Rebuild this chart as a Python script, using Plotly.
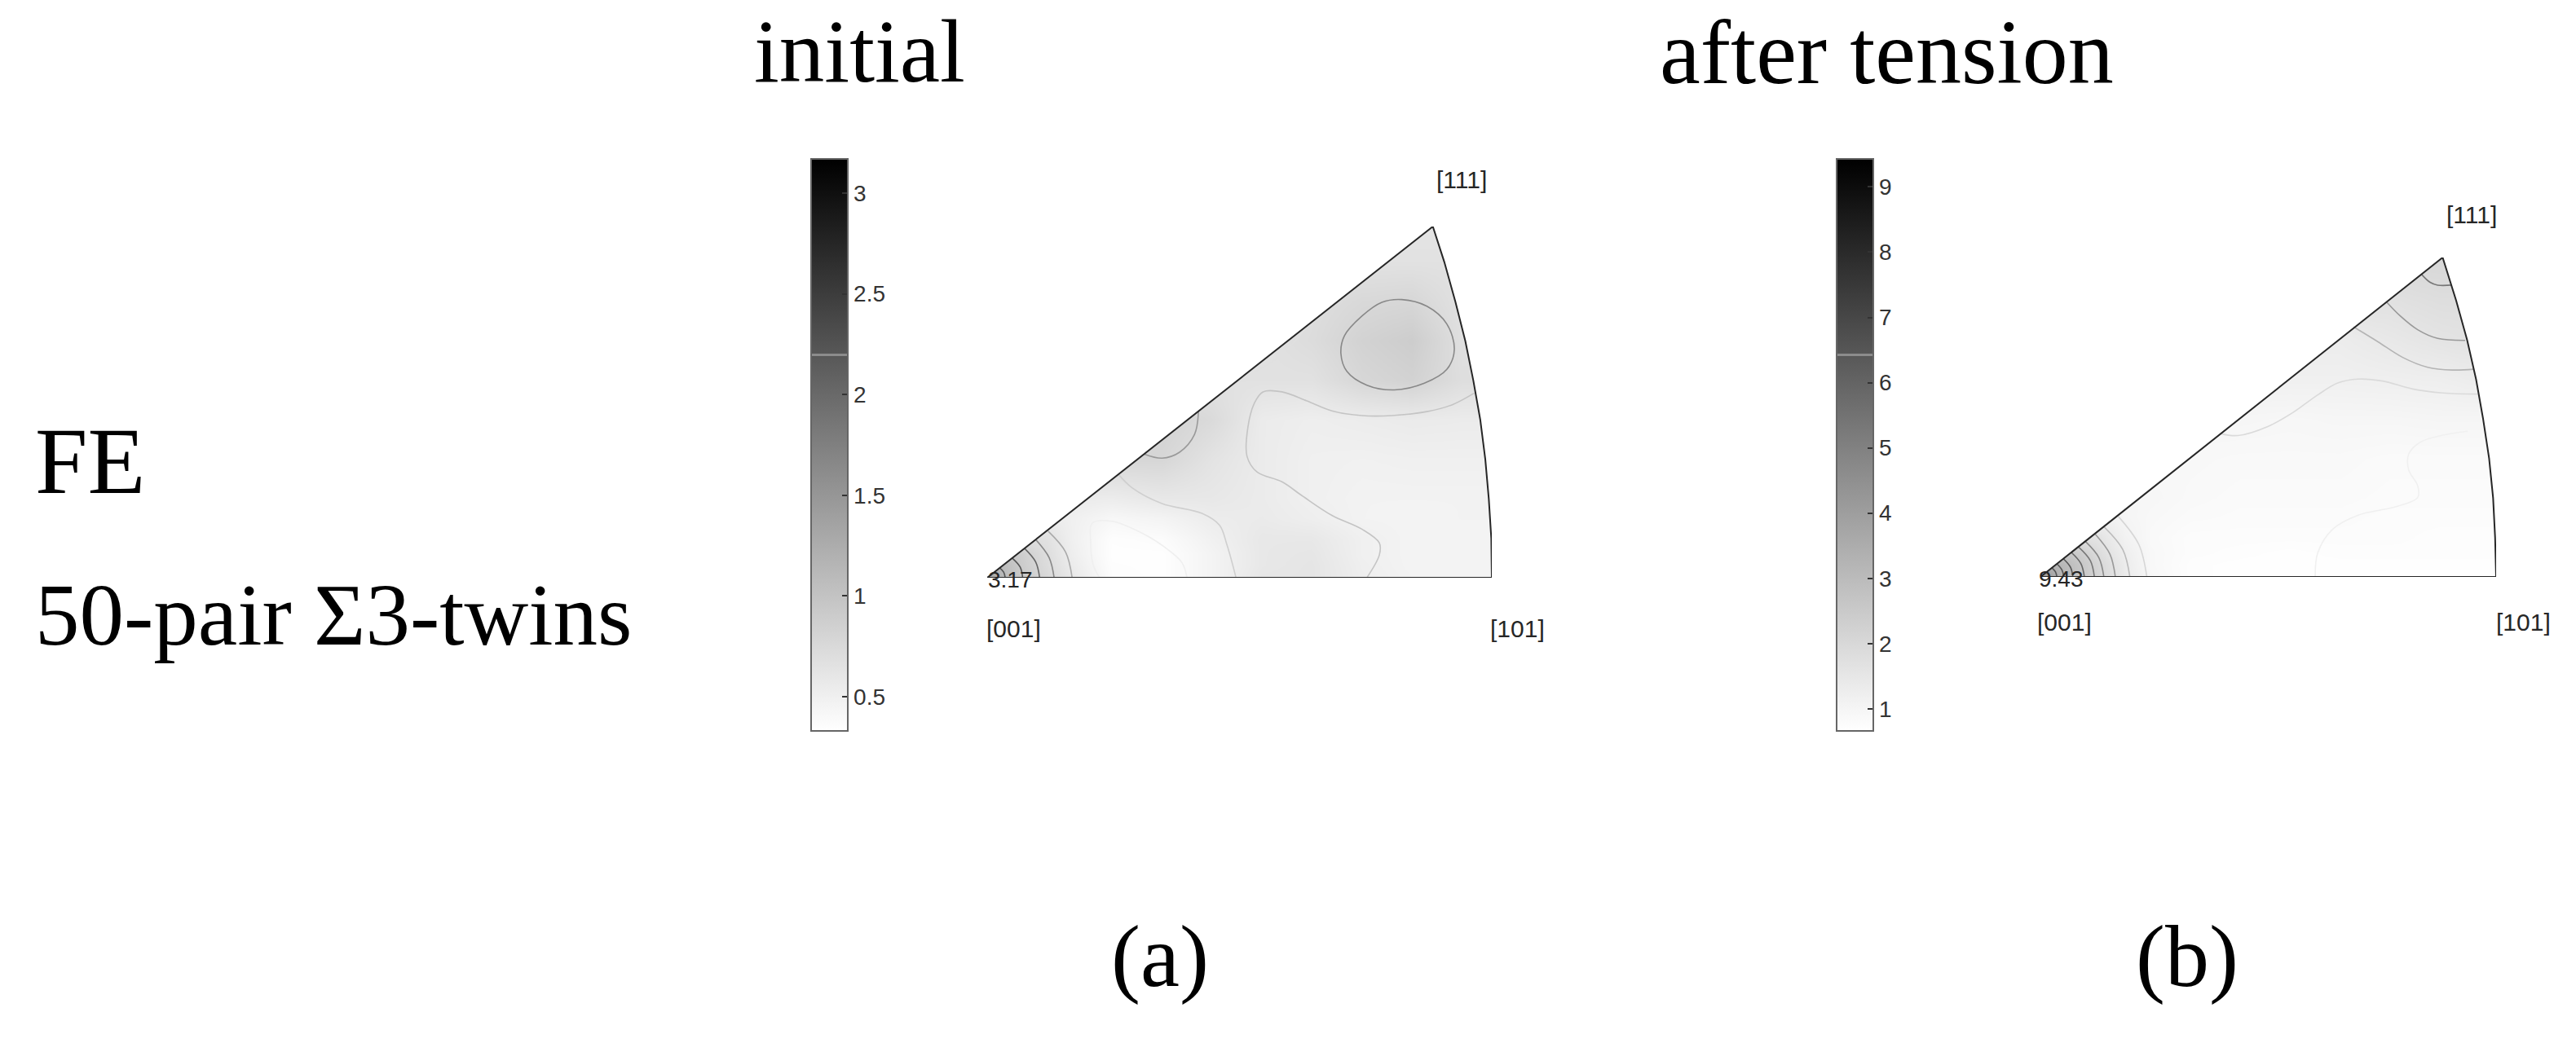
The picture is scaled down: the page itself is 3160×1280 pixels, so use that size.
import plotly.graph_objects as go

W, H = 3160, 1280
SERIF = "Liberation Serif"
SANS = "Liberation Sans"

# ---- panel (a) "initial" -------------------------------------------------
a_tick_vals = [0.5, 1, 1.5, 2, 2.5, 3]
a_tick_text = ["0.5", "1", "1.5", "2", "2.5", "3"]
a_zmin, a_zmax = 0.33, 3.17
a_x = [0, 40, 80, 120, 170, 250, 350, 450, 550, 650, 750, 850, 950, 1010]
a_y = [0, 30, 60, 100, 150, 200, 300, 400, 500, 600, 700, 800, 890]
a_z = [
    [1.35, 1.05, 0.90, 0.76, 0.59, 0.36, 0.34, 0.46, 0.61, 0.62, 0.52, 0.47, 0.46, 0.46],
    [1.20, 1.03, 0.86, 0.72, 0.55, 0.35, 0.34, 0.46, 0.59, 0.62, 0.51, 0.46, 0.46, 0.46],
    [1.00, 0.98, 0.84, 0.70, 0.52, 0.34, 0.34, 0.46, 0.59, 0.61, 0.50, 0.46, 0.46, 0.46],
    [0.70, 0.70, 0.70, 0.66, 0.50, 0.35, 0.37, 0.49, 0.59, 0.59, 0.50, 0.46, 0.46, 0.46],
    [0.55, 0.55, 0.55, 0.55, 0.50, 0.42, 0.46, 0.54, 0.56, 0.52, 0.47, 0.46, 0.47, 0.47],
    [0.55, 0.55, 0.55, 0.55, 0.55, 0.54, 0.59, 0.59, 0.55, 0.50, 0.47, 0.47, 0.47, 0.47],
    [0.78, 0.78, 0.78, 0.78, 0.78, 0.78, 0.78, 0.64, 0.55, 0.50, 0.49, 0.50, 0.50, 0.50],
    [0.83, 0.83, 0.83, 0.83, 0.83, 0.83, 0.83, 0.74, 0.55, 0.52, 0.54, 0.56, 0.55, 0.55],
    [0.66, 0.66, 0.66, 0.66, 0.66, 0.66, 0.66, 0.66, 0.66, 0.66, 0.78, 0.83, 0.70, 0.70],
    [0.66, 0.66, 0.66, 0.66, 0.66, 0.66, 0.66, 0.66, 0.66, 0.72, 0.83, 0.89, 0.68, 0.68],
    [0.70, 0.70, 0.70, 0.70, 0.70, 0.70, 0.70, 0.70, 0.70, 0.70, 0.76, 0.78, 0.66, 0.66],
    [0.66, 0.66, 0.66, 0.66, 0.66, 0.66, 0.66, 0.66, 0.66, 0.66, 0.66, 0.66, 0.66, 0.66],
    [0.63, 0.63, 0.63, 0.63, 0.63, 0.63, 0.63, 0.63, 0.63, 0.63, 0.63, 0.63, 0.63, 0.63],
]
a_edge_x = [0, 1010, 1009, 1004, 997, 987, 973, 957, 937, 915, 892, 0]
a_edge_y = [0, 0, 100, 200, 300, 400, 500, 600, 700, 800, 890, 0]
a_contours = [
    ("#555555", [36, 33, 25], [0, 14, 25]),
    ("#555555", [71, 66, 50], [0, 27, 50]),
    ("#666666", [105, 97, 75], [0, 40, 74]),
    ("#888888", [134, 124, 97], [0, 51, 97]),
    ("#aaaaaa", [170, 157, 122], [0, 65, 118]),
    ("#efefef", [225, 212, 207, 210, 250, 310, 360, 390, 400], [0, 33, 93, 138, 143, 113, 73, 38, 0]),
    ("#cfcfcf", [262, 290, 350, 430, 465, 480, 498], [263, 228, 188, 163, 133, 83, 0]),
    ("#c4c4c4", [760, 785, 785, 750, 690, 630, 590, 540, 520, 522, 535, 552, 590, 640, 690, 750, 810, 880, 930, 975],
     [0, 58, 88, 123, 158, 208, 243, 268, 308, 383, 443, 471, 471, 448, 423, 411, 411, 421, 438, 468]),
    ("#999999", [423, 415, 385, 350, 315], [423, 363, 318, 303, 313]),
    ("#e0e0e0", [635, 600, 565, 535], [628, 578, 543, 521]),
    ("#888888", [830, 880, 920, 935, 920, 875, 815, 760, 720, 708, 715, 750, 790, 830],
     [705, 688, 643, 578, 528, 493, 476, 488, 523, 568, 613, 663, 698, 705]),
]

# ---- panel (b) "after tension" -------------------------------------------
b_tick_vals = [1, 2, 3, 4, 5, 6, 7, 8, 9]
b_tick_text = ["1", "2", "3", "4", "5", "6", "7", "8", "9"]
b_zmin, b_zmax = 0.66, 9.43
b_x = [0, 40, 80, 120, 170, 220, 300, 400, 500, 600, 700, 800, 870, 912]
b_y = [0, 30, 60, 100, 150, 200, 300, 400, 500, 600, 700, 810]
b_z = [
    [4.40, 3.20, 2.60, 2.04, 1.35, 0.94, 0.73, 0.69, 0.69, 0.69, 0.66, 0.66, 0.66, 0.66],
    [3.50, 3.15, 2.60, 2.00, 1.31, 0.90, 0.73, 0.69, 0.69, 0.69, 0.69, 0.69, 0.69, 0.69],
    [2.80, 2.70, 2.40, 1.80, 1.24, 0.90, 0.76, 0.73, 0.69, 0.73, 0.73, 0.73, 0.73, 0.73],
    [1.69, 1.69, 1.69, 1.59, 1.11, 0.87, 0.76, 0.76, 0.76, 0.76, 0.76, 0.73, 0.73, 0.73],
    [1.18, 1.18, 1.18, 1.18, 1.00, 0.90, 0.83, 0.80, 0.80, 0.80, 0.76, 0.76, 0.76, 0.76],
    [1.00, 1.00, 1.00, 1.00, 0.97, 0.94, 0.87, 0.83, 0.83, 0.83, 0.80, 0.80, 0.80, 0.80],
    [0.90, 0.90, 0.90, 0.90, 0.90, 0.90, 0.90, 0.87, 0.87, 0.87, 0.83, 0.83, 0.83, 0.83],
    [0.97, 0.97, 0.97, 0.97, 0.97, 0.97, 0.97, 0.97, 0.94, 0.97, 0.97, 1.00, 1.00, 1.00],
    [1.18, 1.18, 1.18, 1.18, 1.18, 1.18, 1.18, 1.18, 1.18, 1.18, 1.21, 1.24, 1.31, 1.31],
    [1.31, 1.31, 1.31, 1.31, 1.31, 1.31, 1.31, 1.31, 1.31, 1.31, 1.45, 1.59, 1.66, 1.66],
    [1.69, 1.69, 1.69, 1.69, 1.69, 1.69, 1.69, 1.69, 1.69, 1.69, 1.69, 1.80, 1.80, 1.80],
    [2.04, 2.04, 2.04, 2.04, 2.04, 2.04, 2.04, 2.04, 2.04, 2.04, 2.04, 2.04, 2.04, 2.04],
]
b_edge_x = [0, 912, 910, 906, 898, 886, 872, 854, 832, 805, 0]
b_edge_y = [0, 0, 100, 200, 300, 400, 500, 600, 700, 809, 0]
b_contours = [
    ("#555555", [33, 30, 23], [0, 13, 23]),
    ("#555555", [47, 43, 33], [0, 18, 33]),
    ("#555555", [65, 60, 46], [0, 25, 46]),
    ("#666666", [88, 81, 62], [0, 34, 62]),
    ("#777777", [108, 100, 76], [0, 41, 76]),
    ("#888888", [127, 117, 90], [0, 49, 90]),
    ("#999999", [150, 139, 110], [0, 58, 108]),
    ("#bbbbbb", [179, 165, 128], [0, 69, 126]),
    ("#d6d6d6", [213, 197, 156], [0, 82, 153]),
    ("#777777", [763, 780, 795, 823], [766, 746, 739, 739]),
    ("#999999", [693, 720, 755, 795, 850], [696, 661, 626, 604, 599]),
    ("#b4b4b4", [627, 675, 725, 775, 825, 867], [633, 596, 556, 531, 524, 526]),
    ("#dadada", [360, 395, 455, 505, 555, 595, 635, 685, 745, 805, 875],
     [363, 358, 381, 416, 461, 491, 501, 496, 476, 466, 463]),
    ("#f0f0f0", [855, 805, 760, 737, 737, 755, 755, 715, 635, 585, 555, 550],
     [369, 359, 341, 311, 271, 231, 201, 179, 156, 121, 61, 0]),
]


def px(x):
    return x / W


def py(y):
    return 1 - y / H


def grey_scale(seam):
    # plain white-to-black ramp with the thin pale seam the source image shows in its bars
    # (the seam sits at levels the shaded maps never reach)
    lo, hi = seam - 0.0022, seam + 0.0022
    return [[0, "#ffffff"],
            [lo, f"rgb({round(255 * (1 - lo))},{round(255 * (1 - lo))},{round(255 * (1 - lo))})"],
            [lo + 0.0001, "#8c8c8c"], [hi - 0.0001, "#8c8c8c"],
            [hi, f"rgb({round(255 * (1 - hi))},{round(255 * (1 - hi))},{round(255 * (1 - hi))})"],
            [1, "#000000"]]


fig = go.Figure()


def panel(suffix, hx, hy, hz, zmin, zmax, tv, tt, bar_left, edge_x, edge_y, contours):
    xa, ya = "x" + suffix, "y" + suffix
    fig.add_trace(go.Heatmap(
        x=hx, y=hy, z=hz, zmin=zmin, zmax=zmax, colorscale=grey_scale(0.658), zsmooth="best",
        xaxis=xa, yaxis=ya, hoverinfo="skip",
        colorbar=dict(
            x=px(bar_left), xanchor="left", xref="paper", y=py(546), yanchor="middle", yref="paper",
            thicknessmode="pixels", thickness=45, lenmode="pixels", len=702,
            xpad=0, ypad=0, outlinecolor="#666666", outlinewidth=2, borderwidth=0,
            ticks="inside", ticklen=8, tickwidth=2, tickcolor="#333333",
            tickvals=tv, ticktext=tt, ticklabelposition="outside",
            tickfont=dict(family=SANS, size=28, color="#333333"),
        ),
    ))
    apex_x, apex_y, far_x = edge_x[-2], edge_y[-2], edge_x[1]
    fig.add_trace(go.Scatter(x=[0, apex_x, 0, 0], y=[0, apex_y, apex_y, 0], mode="lines", fill="toself",
                             fillcolor="#ffffff", line=dict(width=0), xaxis=xa, yaxis=ya, hoverinfo="skip"))
    arc_x, arc_y = edge_x[1:-1], edge_y[1:-1]
    fig.add_trace(go.Scatter(x=arc_x + [far_x, far_x], y=arc_y + [apex_y, 0], mode="lines", fill="toself",
                             fillcolor="#ffffff", line=dict(width=0), xaxis=xa, yaxis=ya, hoverinfo="skip"))
    for colour, cx, cy in contours:
        fig.add_trace(go.Scatter(x=cx, y=cy, mode="lines", line=dict(color=colour, width=1.6, shape="spline", smoothing=1),
                                 xaxis=xa, yaxis=ya, hoverinfo="skip", cliponaxis=False))
    fig.add_trace(go.Scatter(x=edge_x, y=edge_y, mode="lines", line=dict(color="#262626", width=2),
                             xaxis=xa, yaxis=ya, hoverinfo="skip", cliponaxis=False))


panel("", a_x, a_y, a_z, a_zmin, a_zmax, a_tick_vals, a_tick_text, 995, a_edge_x, a_edge_y, a_contours)
panel("2", b_x, b_y, b_z, b_zmin, b_zmax, b_tick_vals, b_tick_text, 2253, b_edge_x, b_edge_y, b_contours)


def hidden(domain, rng, anchor):
    return dict(domain=domain, range=rng, visible=False, anchor=anchor, fixedrange=True)


layout = dict(
    width=W, height=H, margin=dict(l=0, r=0, t=0, b=0), showlegend=False,
    paper_bgcolor="#ffffff", plot_bgcolor="#ffffff",
    xaxis=hidden([px(1211), px(1830)], [0, 1010], "y"),
    yaxis=hidden([py(709), py(278)], [0, 890], "x"),
    xaxis2=hidden([px(2503), px(3062)], [0, 912], "y2"),
    yaxis2=hidden([py(708), py(316)], [0, 809], "x2"),
)

big = [
    ("initial", 1054, 62, "center", 111),
    ("after tension", 2314, 64, "center", 112),
    ("FE", 41, 566, "left", 116),
    ("50-pair Σ3-twins", 41, 754, "left", 109),
    ("(a)", 1423, 1174, "center", 108),
    ("(b)", 2683, 1174, "center", 108),
]
small = [
    ("[111]", 1793, 220, "center", 30),
    ("[001]", 1243, 771, "center", 30),
    ("[101]", 1861, 771, "center", 30),
    ("3.17", 1239, 711, "center", 28),
    ("[111]", 3032, 263, "center", 30),
    ("[001]", 2532, 763, "center", 30),
    ("[101]", 3095, 763, "center", 30),
    ("9.43", 2528, 710, "center", 28),
]
ann = []
for t, x, y, anc, s in big:
    ann.append(dict(text=t, x=px(x), y=py(y), xref="paper", yref="paper", xanchor=anc, yanchor="middle",
                    showarrow=False, font=dict(family=SERIF, size=s, color="#000000")))
for t, x, y, anc, s in small:
    ann.append(dict(text=t, x=px(x), y=py(y), xref="paper", yref="paper", xanchor=anc, yanchor="middle",
                    showarrow=False, font=dict(family=SANS, size=s, color="#262626")))
layout["annotations"] = ann
fig.update_layout(**layout)
fig.write_html("out.html", config={"displayModeBar": False}, post_script="document.body.style.margin='0';")
